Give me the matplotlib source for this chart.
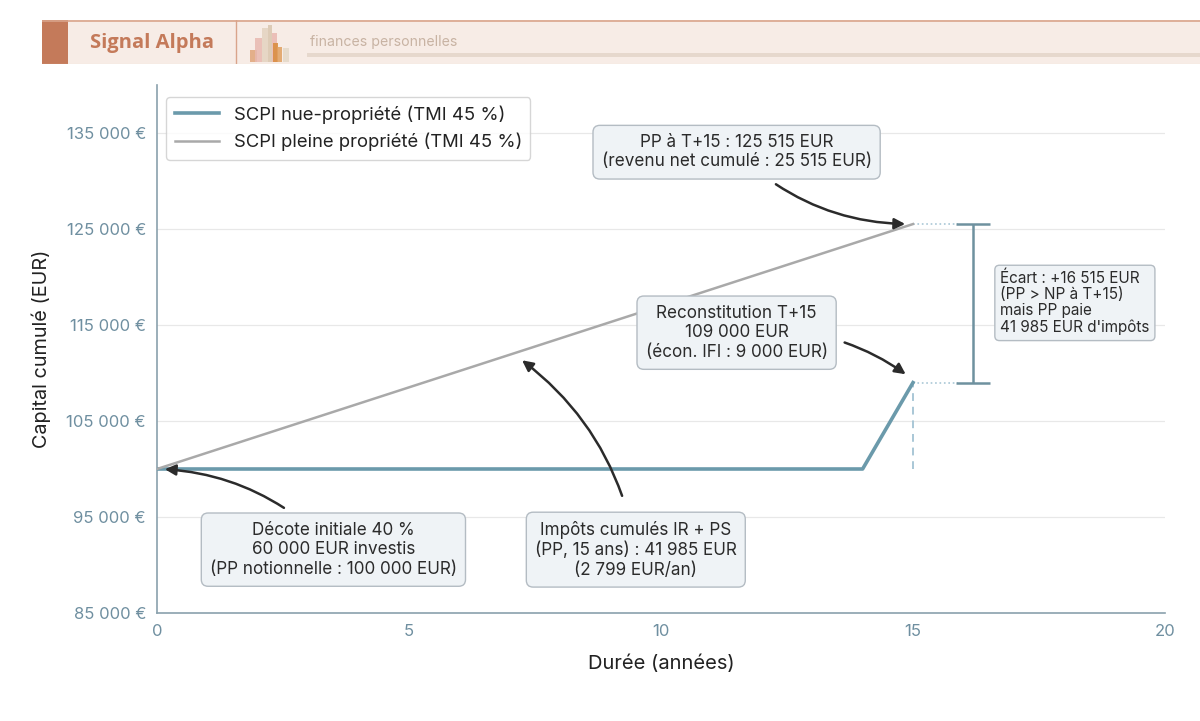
import matplotlib
matplotlib.use("Agg")
import matplotlib.pyplot as plt
from matplotlib.patches import Rectangle
from matplotlib.ticker import FuncFormatter, MultipleLocator

plt.rcParams['font.family'] = ['Inter', 'DejaVu Sans']

# --- données ---
np_years = [0, 14, 15]
np_capital = [100000, 100000, 109000]
pp_years = [0, 15]
pp_capital = [100000, 125515]
horizon = 15
np_final = 109000
pp_final = 125515
start_capital = 100000
y_ticks = [85000, 95000, 105000, 115000, 125000, 135000]

np_color = "#6b9aab"
pp_color = "#a9a9a9"
slate = "#6f8fa0"
terra = "#c47a5a"

fig = plt.figure(figsize=(12, 7.21), dpi=100)

# --- bandeau ---
hdr = fig.add_axes([42/1200, 1 - 64/721, 1 - 42/1200, 44/721])
hdr.set_xlim(42, 1200)
hdr.set_ylim(64, 20)
hdr.axis("off")
hdr.add_patch(Rectangle((42, 20), 1158, 44, color="#f7ece6", lw=0))
hdr.plot([42, 1200], [20.5, 20.5], color="#d9a48b", lw=1.2)
hdr.plot([42, 1200], [63.5, 63.5], color="#f0ddd2", lw=0.8)
hdr.add_patch(Rectangle((42, 20), 26, 44, color=terra, lw=0))
hdr.plot([236, 236], [20, 64], color="#d9a48b", lw=1)
hdr.text(152, 43, "Signal Alpha", color=terra, fontsize=14.5, fontweight="bold",
         family=["Open Sans", "DejaVu Sans"], ha="center", va="center")
icon_x = [250, 255, 262, 268, 272, 273, 277, 283]
icon_w = [7, 7, 6, 4, 5, 5, 5, 6]
icon_top = [50, 38, 28, 25, 33, 43, 47, 48]
icon_col = ["#e0a57a", "#e8b9b0", "#e3d3c0", "#d9c6ae", "#e9b7b0", "#d98a3a", "#e0a060", "#e3d8c8"]
for x, w, t, c in zip(icon_x, icon_w, icon_top, icon_col):
    hdr.add_patch(Rectangle((x, t), w, 62 - t, color=c, alpha=0.85, lw=0))
hdr.text(310, 42, "finances personnelles", color="#c8b3a3", fontsize=10.2,
         ha="left", va="center")
hdr.add_patch(Rectangle((307, 53), 893, 4, color="#e6d8cd", lw=0))

# --- graphique ---
ax = fig.add_axes([157/1200, 1 - 613/721, 1008/1200, 528/721])
ax.plot(np_years, np_capital, color=np_color, lw=2.6, label="SCPI nue-propriété (TMI 45 %)", zorder=3)
ax.plot(pp_years, pp_capital, color=pp_color, lw=1.8, label="SCPI pleine propriété (TMI 45 %)", zorder=3)

ax.set_xlim(0, 20)
ax.set_ylim(85000, 140000)
ax.xaxis.set_major_locator(MultipleLocator(5))
ax.set_yticks(y_ticks)
ax.yaxis.set_major_formatter(FuncFormatter(lambda v, p: f"{int(v):,} €".replace(",", " ")))
ax.grid(axis="y", color="#e8e8e8", lw=0.9)
ax.set_axisbelow(True)
for s in ["top", "right"]:
    ax.spines[s].set_visible(False)
for s in ["left", "bottom"]:
    ax.spines[s].set_color("#8aa1ad")
    ax.spines[s].set_linewidth(1.2)
ax.tick_params(length=0, colors=slate, labelsize=12, pad=8)
ax.set_xlabel("Durée (années)", fontsize=14.5, color="#222222", labelpad=11)
ax.set_ylabel("Capital cumulé (EUR)", fontsize=14.3, color="#222222", labelpad=11)

# repères
ax.plot([horizon, horizon], [start_capital, np_final], color="#a9c7d6", lw=1.4, ls=(0, (4, 3)))
ax.plot([horizon, 15.9], [pp_final, pp_final], color="#a9c7d6", lw=1.2, ls=":")
ax.plot([horizon, 15.9], [np_final, np_final], color="#a9c7d6", lw=1.2, ls=":")
ax.errorbar([16.2], [(pp_final + np_final) / 2], yerr=[(pp_final - np_final) / 2],
            color="#6e919f", lw=1.8, capsize=12, capthick=1.8)

box = dict(boxstyle="round,pad=0.5,rounding_size=0.4", fc="#eff3f6", ec="#b4bcc3", lw=1)
arrow = dict(arrowstyle="-|>", color="#2b2b2b", lw=1.8, mutation_scale=16, shrinkA=6, shrinkB=2)
fs = 12.3

ax.annotate("PP à T+15 : 125 515 EUR\n(revenu net cumulé : 25 515 EUR)",
            xy=(horizon - 0.1, pp_final), xytext=(11.5, 133000),
            ha="center", va="center", fontsize=fs, color="#2b2b2b", bbox=box,
            arrowprops=dict(arrow, connectionstyle="arc3,rad=0.2"))
ax.annotate("Reconstitution T+15\n109 000 EUR\n(écon. IFI : 9 000 EUR)",
            xy=(horizon - 0.1, np_final + 700), xytext=(11.5, 114200),
            ha="center", va="center", fontsize=fs, color="#2b2b2b", bbox=box,
            arrowprops=dict(arrow, connectionstyle="arc3,rad=-0.2"))
ax.annotate("Décote initiale 40 %\n60 000 EUR investis\n(PP notionnelle : 100 000 EUR)",
            xy=(0.1, start_capital), xytext=(3.5, 91600),
            ha="center", va="center", fontsize=fs, color="#2b2b2b", bbox=box,
            arrowprops=dict(arrow, connectionstyle="arc3,rad=0.2"))
ax.annotate("Impôts cumulés IR + PS\n(PP, 15 ans) : 41 985 EUR\n(2 799 EUR/an)",
            xy=(7.2, 111500), xytext=(9.5, 91600),
            ha="center", va="center", fontsize=fs, color="#2b2b2b", bbox=box,
            arrowprops=dict(arrow, connectionstyle="arc3,rad=0.2", shrinkA=12))
ax.text(16.73, 117300, "Écart : +16 515 EUR\n(PP > NP à T+15)\nmais PP paie\n41 985 EUR d'impôts",
        ha="left", va="center", fontsize=11, color="#2b2b2b", linespacing=1.1,
        bbox=dict(boxstyle="round,pad=0.35,rounding_size=0.3", fc="#eff3f6", ec="#b4bcc3", lw=1))

leg = ax.legend(loc="upper left", fontsize=13.3, frameon=True, fancybox=True,
                bbox_to_anchor=(0.0, 0.995), handlelength=2.4, borderpad=0.45)
leg.get_frame().set_edgecolor("#cccccc")
for t in leg.get_texts():
    t.set_color("#222222")

fig.savefig("out.png", dpi=100)
